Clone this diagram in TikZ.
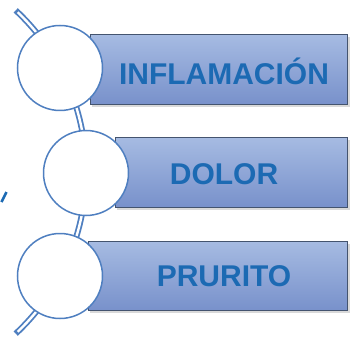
\documentclass[tikz,border=0pt]{standalone}
\usepackage{fontspec}
\setmainfont{Liberation Sans}
\usetikzlibrary{calc}
\definecolor{ringblue}{HTML}{4F7FC0}
\definecolor{txtblue}{HTML}{1C6AB3}
\definecolor{recttop}{HTML}{A6BBE2}
\definecolor{rectbot}{HTML}{7891CB}
\definecolor{rectedge}{HTML}{44546F}
\tikzset{
  ring/.style={circle,draw=ringblue,line width=1.5pt,fill=white,minimum size=85pt,inner sep=0pt},
  bar/.style={draw=rectedge,line width=1.1pt,top color=recttop,bottom color=rectbot,inner sep=0pt},
  bartext/.style={text=txtblue,font=\bfseries\fontsize{30}{30}\selectfont,inner sep=0pt},
}
\begin{document}
\begin{tikzpicture}[x=1pt,y=1pt]
\useasboundingbox (0,0) rectangle (355,340);
% arc connector (behind)
\coordinate (arcc) at (-135,168);
\coordinate (atop) at ($(arcc)+(47:221)$);
\draw[ringblue,line width=6pt] (atop) arc[start angle=47,end angle=-47,radius=221];
\coordinate (atop2) at ($(arcc)+(46.3:221)$);
\draw[white,line width=2.4pt] (atop2) arc[start angle=46.3,end angle=-46.3,radius=221];
% bars
\fill[black!15] (92,233) rectangle (350,303);
\fill[black!15] (117,130) rectangle (350,200);
\fill[black!15] (90,27) rectangle (350,96);
\node[bar,anchor=south west,minimum width=257pt,minimum height=70pt] (b1) at (90,235) {};
\node[bar,anchor=south west,minimum width=232pt,minimum height=70pt] (b2) at (115,132) {};
\node[bar,anchor=south west,minimum width=259pt,minimum height=69pt] (b3) at (88,29) {};
\node[bartext] (t1) at (224,269) {INFLAMACIÓN};
\node[bartext] (t2) at (224,166) {DOLOR};
\node[bartext] (t3) at (224,64) {PRURITO};
% circles
\node[ring] (c1) at (60,272) {};
\node[ring] (c2) at (86,167) {};
\node[ring] (c3) at (60,64) {};
% stray slash mark
\coordinate (s1) at (1.5,138);
\coordinate (s2) at (6.5,148);
\draw[txtblue,line width=2.6pt] (s1) -- (s2);
\end{tikzpicture}
\end{document}
